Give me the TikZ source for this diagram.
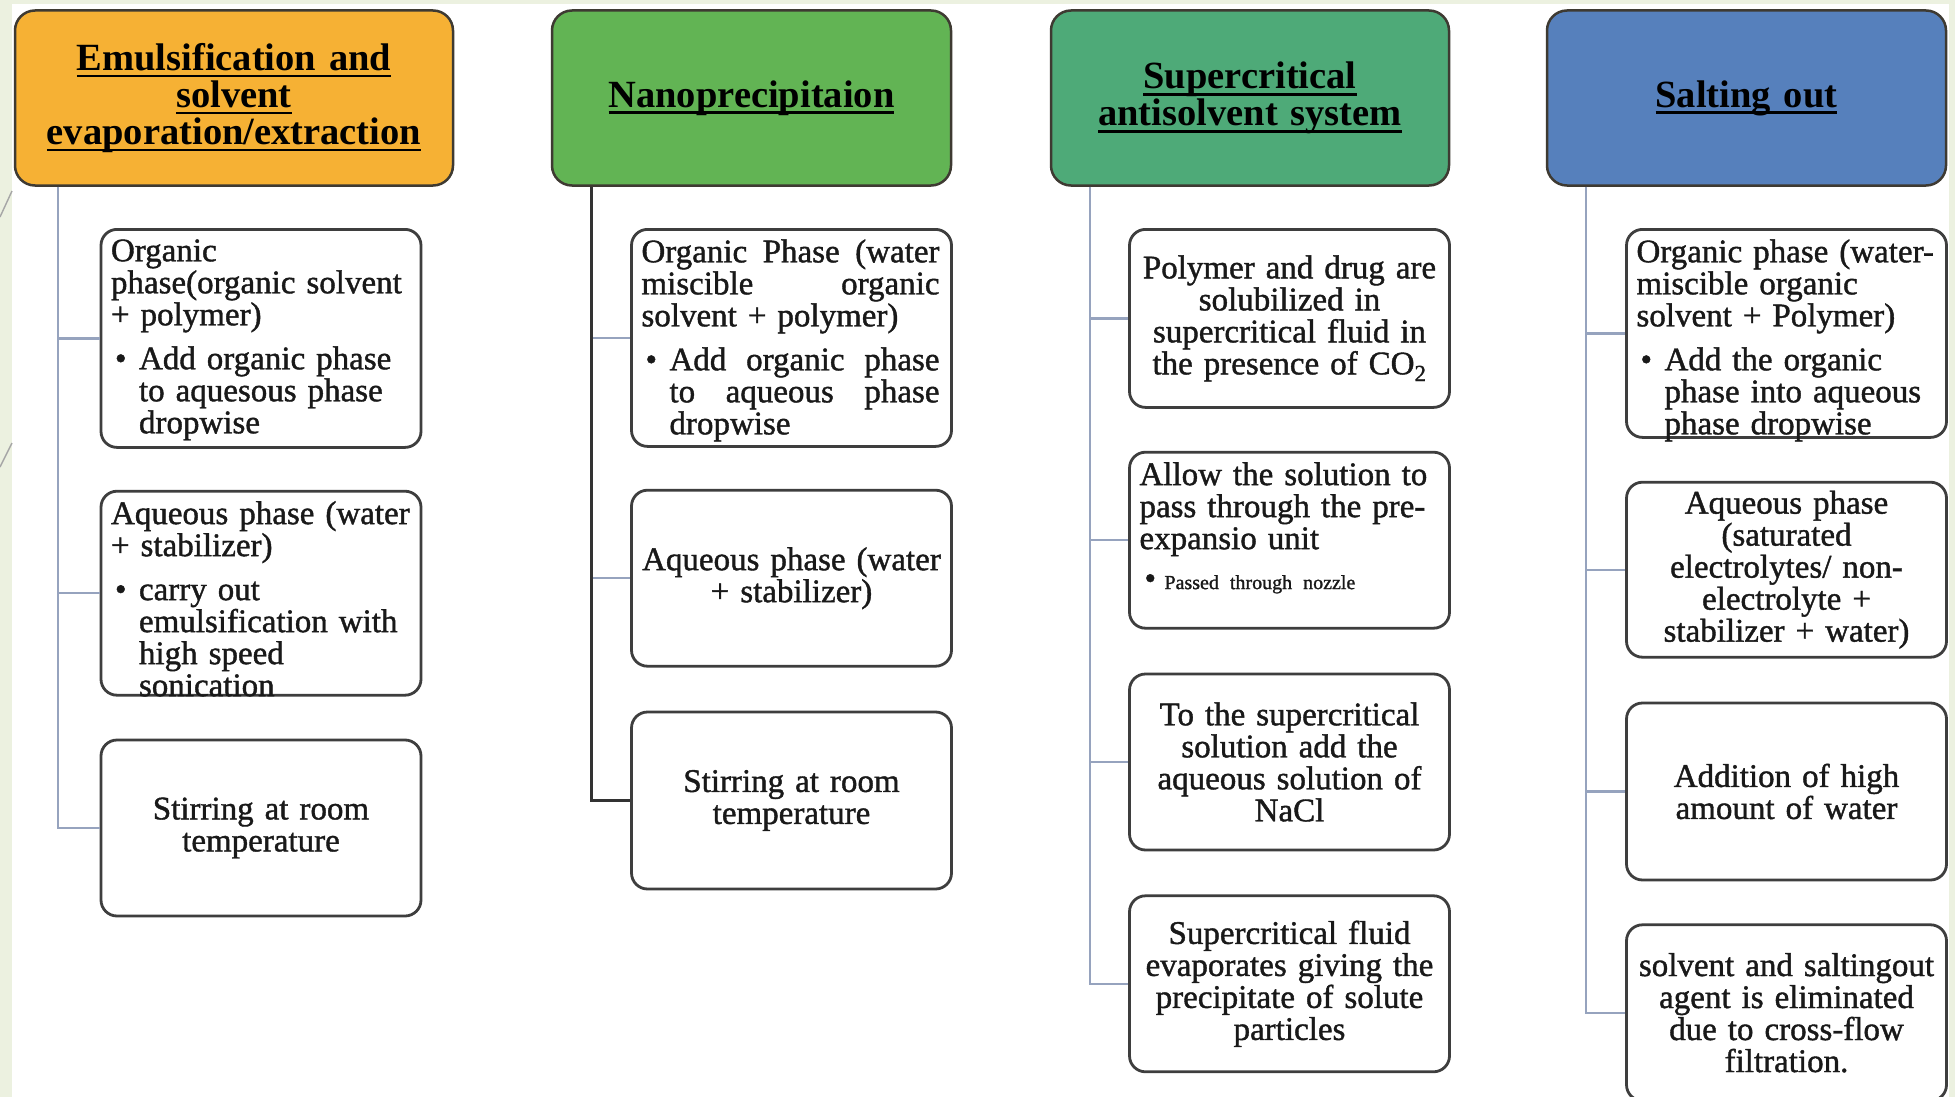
\documentclass[tikz,border=0pt]{standalone}
\usepackage{fontspec}
\setmainfont{Liberation Serif}
\newfontfamily\stepserif{Liberation Serif}[FakeBold=1.2]
\usetikzlibrary{positioning}

\definecolor{emulsorange}{RGB}{246,177,52}
\definecolor{nanogreen}{RGB}{98,180,84}
\definecolor{scgreen}{RGB}{78,170,120}
\definecolor{saltblue}{RGB}{86,128,188}
\definecolor{headedge}{RGB}{62,58,50}
\definecolor{edgegray}{RGB}{62,62,62}
\definecolor{linkblue}{RGB}{150,163,190}
\definecolor{slidegreen}{RGB}{236,241,224}

\newcommand{\headfont}{\fontsize{38.5}{37}\selectfont\normalbaselineskip=37pt\bfseries}
\newcommand{\boxfont}{\stepserif\fontsize{33}{32}\selectfont\normalbaselineskip=32pt}
\newcommand{\ulhead}[1]{\leavevmode\setbox0=\hbox{#1}\rlap{\rule[-7pt]{\wd0}{2.8pt}}\box0}
\newcommand{\toptext}[2]{\parbox[c][#1][t]{300pt}{\boxfont #2}}
\newcommand{\bulletpar}{\par\vspace{12pt}\hangindent=28pt\hangafter=1\hspace*{4pt}\makebox[24pt][l]{\textbullet}}
\newcommand{\fullline}[2]{\makebox[#1][s]{#2}}

\begin{document}
\begin{tikzpicture}[
    x=1pt, y=-1pt,
    headstyle/.style={rounded corners=20pt, draw=headedge, line width=2.5pt,
        minimum height=175pt, inner sep=0pt, align=center, text=black, font=\headfont},
    stepstyle/.style={rounded corners=16pt, draw=edgegray, fill=white, line width=2.8pt,
        minimum width=320pt, text width=300pt, inner sep=0pt, align=center,
        text=black!90, font=\boxfont},
    branch/.style={draw=linkblue, line width=2.4pt},
    darkbranch/.style={draw=black!80, line width=2.8pt},
    slideline/.style={draw=gray!70, line width=1.4pt}
  ]
    \useasboundingbox (0,0) rectangle (1955,1097);
    % slide background
    \fill[white] (0,0) rectangle (1955,1097);
    \fill[slidegreen] (0,0) rectangle (12,1097);
    \fill[slidegreen] (0,0) rectangle (1955,4);
    \draw[slideline] (12,191) -- (0,217);
    \draw[slideline] (12,443) -- (0,467);

    % method headers
    \node[headstyle, fill=emulsorange, minimum width=438pt, text width=420pt] (emhead) at (234,98)
        {\ulhead{Emulsification and}\\\ulhead{solvent}\\\ulhead{evaporation/extraction}};
    \node[headstyle, fill=nanogreen, minimum width=399pt, text width=380pt] (nanohead) at (751.5,98)
        {\ulhead{Nanoprecipitaion}};
    \node[headstyle, fill=scgreen, minimum width=398pt, text width=380pt] (schead) at (1250,98)
        {\ulhead{Supercritical}\\\ulhead{antisolvent system}};
    \node[headstyle, fill=saltblue, minimum width=399pt, text width=380pt] (salthead) at (1746.5,98)
        {\ulhead{Salting out}};

    % emulsification steps
    \node[stepstyle, minimum height=218pt, anchor=north] (em1) at (261,228)
        {\toptext{198pt}{\raggedright Organic\newline phase(organic solvent\newline + polymer)\bulletpar
         Add organic phase\newline to aquesous phase\newline dropwise}};
    \node[stepstyle, minimum height=204pt, below=41pt of em1] (em2)
        {\toptext{184pt}{\raggedright Aqueous phase (water\newline + stabilizer)\bulletpar
         carry out\newline emulsification with\newline high speed\newline sonication}};
    \node[stepstyle, minimum height=176pt, below=42pt of em2] (em3) {Stirring at room\\temperature};

    % nanoprecipitation steps (justified lines)
    \node[stepstyle, minimum height=217pt, anchor=north] (nano1) at (791.5,228)
        {\toptext{197pt}{\raggedright \fullline{298pt}{Organic\hfill Phase\hfill (water}\newline
         \fullline{298pt}{miscible\hfill organic}\newline solvent + polymer)\bulletpar
         \fullline{270pt}{Add\hfill organic\hfill phase}\newline \fullline{270pt}{to\hfill aqueous\hfill phase}\newline dropwise}};
    \node[stepstyle, minimum height=176pt, below=41pt of nano1] (nano2) {Aqueous phase (water\\+ stabilizer)};
    \node[stepstyle, minimum height=177pt, below=43pt of nano2] (nano3) {Stirring at room\\temperature};

    % supercritical antisolvent steps
    \node[stepstyle, minimum height=178pt, anchor=north] (sc1) at (1289.5,228)
        {Polymer and drug are\\solubilized in\\supercritical fluid in\\the presence of CO\textsubscript{2}};
    \node[stepstyle, minimum height=176pt, below=42pt of sc1] (sc2)
        {\toptext{156pt}{\raggedright Allow the solution to\newline pass through the pre-\newline expansio unit\par
         \vspace{8pt}\hspace*{5pt}\makebox[20pt][l]{\textbullet}\hbox{\fontsize{20}{22}\selectfont Passed through nozzle}}};
    \node[stepstyle, minimum height=176pt, below=43pt of sc2] (sc3)
        {To the supercritical\\solution add the\\aqueous solution of\\NaCl};
    \node[stepstyle, minimum height=176pt, below=43pt of sc3] (sc4)
        {Supercritical fluid\\evaporates giving the\\precipitate of solute\\particles};

    % salting out steps
    \node[stepstyle, minimum height=208pt, anchor=north] (salt1) at (1786.5,228)
        {\toptext{188pt}{\raggedright Organic phase (water-\newline miscible organic\newline solvent + Polymer)\bulletpar
         Add the organic\newline phase into aqueous\newline phase dropwise}};
    \node[stepstyle, minimum height=175pt, below=42pt of salt1] (salt2)
        {Aqueous phase\\(saturated\\electrolytes/ non-\\electrolyte +\\stabilizer + water)};
    \node[stepstyle, minimum height=177pt, below=43pt of salt2] (salt3) {Addition of high\\amount of water};
    \node[stepstyle, minimum height=176pt, below=42pt of salt3] (salt4)
        {solvent and saltingout\\agent is eliminated\\due to cross-flow\\filtration.};

    % tree connectors
    \coordinate (emroot) at ([xshift=44pt]emhead.south west);
    \draw[branch] (emroot) |- (em1.west);
    \draw[branch] (emroot) |- (em2.west);
    \draw[branch] (emroot) |- (em3.west);
    \coordinate (nanoroot) at ([xshift=41pt]nanohead.south west);
    \draw[branch] (nanoroot) |- (nano1.west);
    \draw[branch] (nanoroot) |- (nano2.west);
    \draw[darkbranch] (nanoroot) |- (nano3.west);
    \coordinate (scroot) at ([xshift=40pt]schead.south west);
    \draw[branch] (scroot) |- (sc1.west);
    \draw[branch] (scroot) |- (sc2.west);
    \draw[branch] (scroot) |- (sc3.west);
    \draw[branch] (scroot) |- (sc4.west);
    \coordinate (saltroot) at ([xshift=40pt]salthead.south west);
    \draw[branch] (saltroot) |- (salt1.west);
    \draw[branch] (saltroot) |- (salt2.west);
    \draw[branch] (saltroot) |- (salt3.west);
    \draw[branch] (saltroot) |- (salt4.west);

    % right slide edge
    \fill[slidegreen] (1949,0) rectangle (1955,1097);
  \end{tikzpicture}
\end{document}
